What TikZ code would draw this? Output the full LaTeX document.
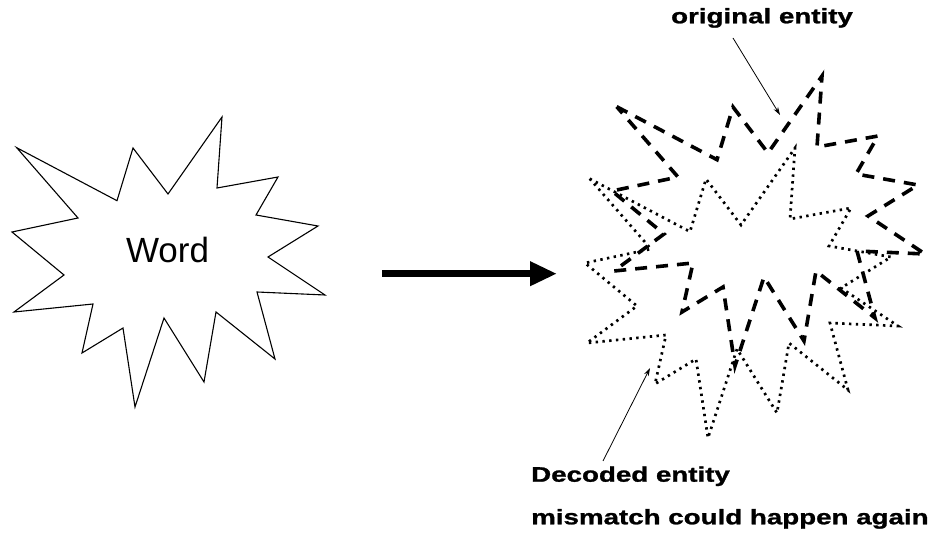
\documentclass[tikz,border=0pt]{standalone}
\usepackage{fontspec}
\setmainfont{Liberation Sans}
\newfontfamily\labelfont[FakeStretch=1.32,FakeBold=1.2]{Liberation Sans}
\usetikzlibrary{arrows.meta}

\tikzset{
  % twelve-pointed burst outline, in pixel-like units
  burst/.pic={
    \draw[pic actions]
      (16.7,147.7) -- (117,200.7) -- (133,148) -- (168,194) -- (222,117)
      -- (217,188) -- (278,177) -- (256,215) -- (318,226) -- (268,257)
      -- (325,295) -- (257,292) -- (275,359) -- (216,312) -- (204,382)
      -- (164,318) -- (135,407) -- (123,328) -- (82,353) -- (93,304)
      -- (14,312) -- (64,275) -- (12,232) -- (78,218) -- cycle;
  },
  solidburst/.style={draw=black, line width=1.1pt, line join=miter, miter limit=20},
  dashedburst/.style={draw=black, line width=3.6pt, dash pattern=on 12pt off 9pt},
  dottedburst/.style={draw=black, line width=2.7pt, dash pattern=on 2.4pt off 4.4pt},
  bigarrow/.style={draw=black, line width=7pt, -{Triangle[length=27pt,width=23pt]}},
  pointer/.style={draw=black, line width=0.8pt, -{Stealth[length=8pt,width=5pt]}},
  wordtext/.style={font=\fontsize{35}{40}\selectfont, inner sep=0pt, anchor=base},
  caption/.style={font=\labelfont\bfseries\fontsize{21}{25}\selectfont, inner sep=0pt},
}

\begin{document}
\begin{tikzpicture}[x=1pt, y=-1pt]
  \fill[white] (0,0) rectangle (935,534);
  \useasboundingbox (0,0) rectangle (935,534);

  % source burst with its word
  \pic[solidburst] at (0,0) {burst};
  \node[wordtext] (word) at (167.5,263) {Word};

  % transfer arrow
  \coordinate (arrowstart) at (382,273.7);
  \coordinate (arrowend) at (557,273.7);
  \draw[bigarrow] (arrowstart) -- (arrowend);

  % original and decoded bursts overlapping
  \pic[dashedburst] at (600,-41) {burst};
  \pic[dottedburst] at (573,31) {burst};

  % captions
  \node[caption, anchor=base] (orig) at (762,23.3) {original entity};
  \node[caption, anchor=base west] (dec) at (531,481.7) {Decoded entity};
  \node[caption, anchor=base west] (mis) at (531,524.3) {mismatch could happen again};

  % pointers from captions to bursts
  \coordinate (origtail) at (733,38);
  \coordinate (origtip) at (780,115);
  \draw[pointer] (origtail) -- (origtip);
  \coordinate (dectail) at (603,461);
  \coordinate (dectip) at (650,368);
  \draw[pointer] (dectail) -- (dectip);
\end{tikzpicture}
\end{document}
